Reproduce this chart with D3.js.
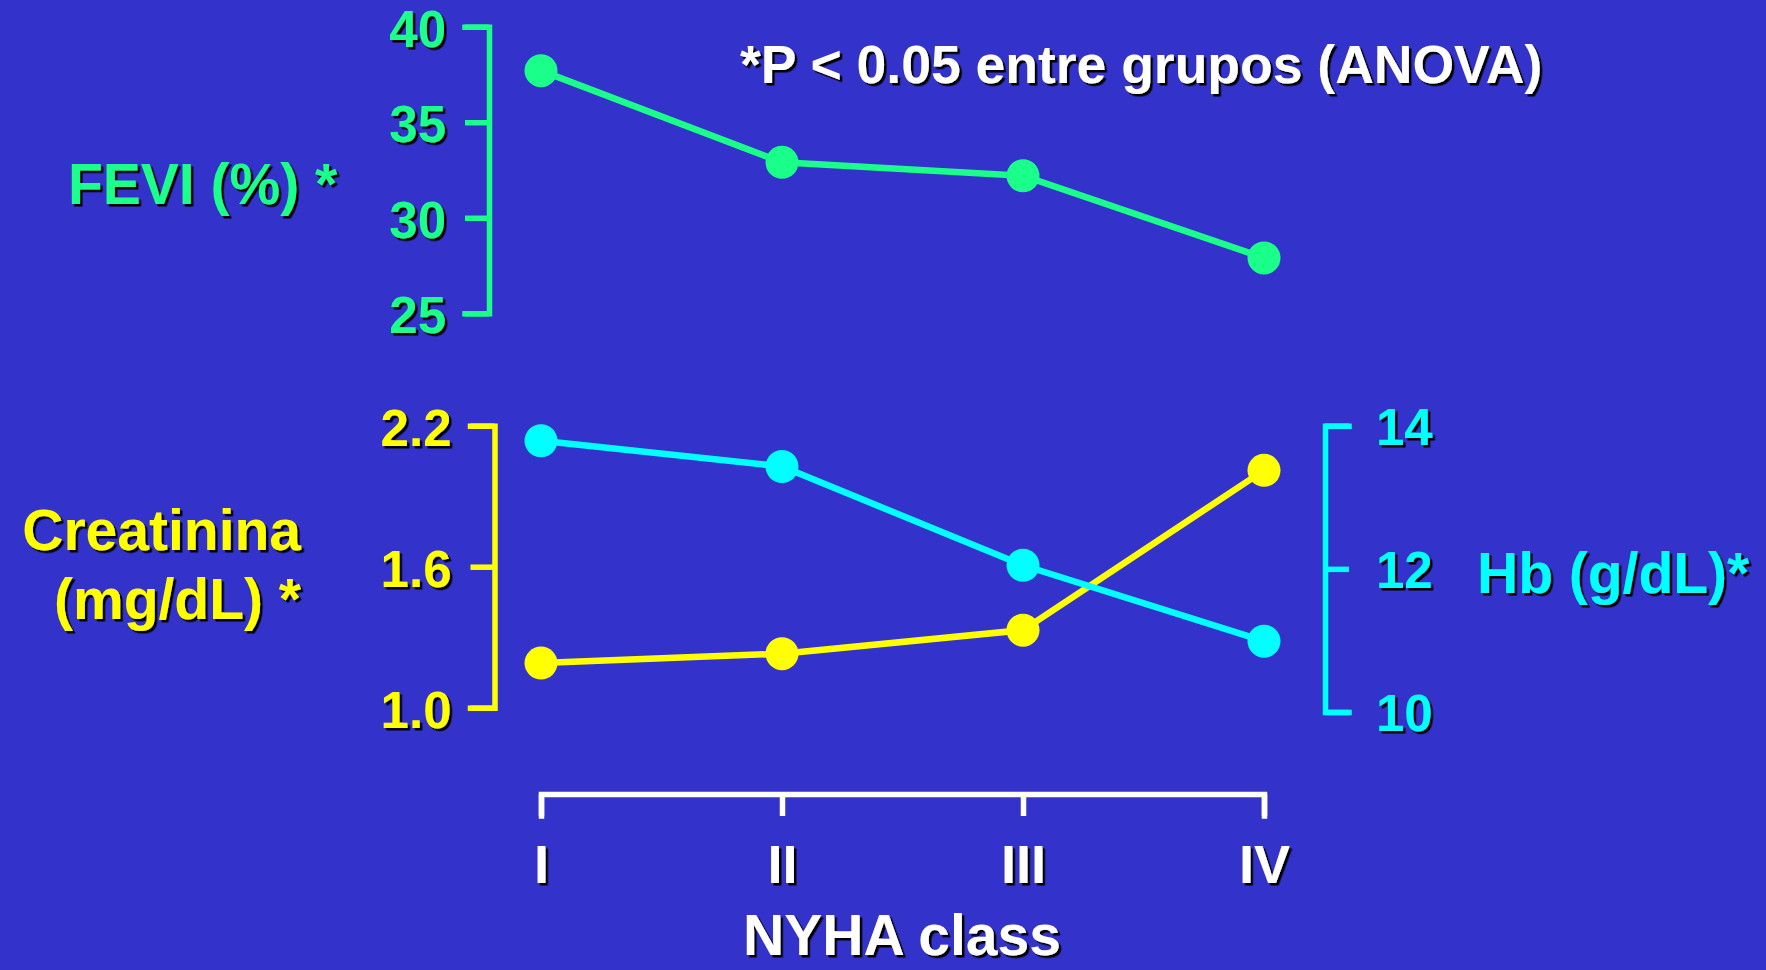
<!DOCTYPE html>
<html>
<head>
<meta charset="utf-8">
<script src="https://cdn.jsdelivr.net/npm/d3@7"></script>
<style>
	html, body { margin:0; padding:0; background:#3333cc; }
	svg { display:block; }
	text { font-family:"Liberation Sans", Arial, sans-serif; font-weight:bold; }
</style>
</head>
<body>
<svg id="chart" width="1766" height="970"></svg>
<script>
// data
var classes    = ["I", "II", "III", "IV"];
var fevi       = [37.7, 32.9, 32.2, 27.9];
var creatinina = [1.19, 1.23, 1.33, 2.01];
var hb         = [13.79, 13.43, 12.05, 10.99];
var feviTicks  = [25, 30, 35, 40];
var creaTicks  = [1.0, 1.6, 2.2];
var hbTicks    = [10, 12, 14];

var GREEN  = "#1aff8a";
var YELLOW = "#ffff00";
var CYAN   = "#00ffff";
var WHITE  = "#ffffff";

var svg = d3.select("#chart");
svg.append("rect").attr("width", 1766).attr("height", 970).attr("fill", "#3333cc");

// black drop shadow for text
var defs = svg.append("defs");
defs.append("filter").attr("id", "shadow")
	.attr("x", "-10%").attr("y", "-10%").attr("width", "130%").attr("height", "130%")
	.append("feDropShadow")
	.attr("dx", 2.5).attr("dy", 2.5).attr("stdDeviation", 0)
	.attr("flood-color", "#000").attr("flood-opacity", 1);

var x     = d3.scalePoint().domain(classes).range([541, 1264]);
var yFevi = d3.scaleLinear().domain([25, 40]).range([313.3, 26.7]);
var yCrea = d3.scaleLinear().domain([1.0, 2.2]).range([707.7, 425.7]);
var yHb   = d3.scaleLinear().domain([10, 14]).range([712, 425.7]);

function styleAxis(g, color, fontSize, dy) {
	g.selectAll("path.domain").attr("stroke", color).attr("stroke-width", 5.5).attr("fill", "none")
		.attr("stroke-linecap", "square");
	g.selectAll(".tick line").attr("stroke", color).attr("stroke-width", 5.5);
	g.selectAll(".tick text")
		.attr("fill", color)
		.attr("font-size", fontSize)
		.attr("dy", dy)
		.attr("filter", "url(#shadow)");
	g.attr("font-family", null).attr("font-size", null);
}

// FEVI axis (top panel, left)
var gFevi = svg.append("g").attr("transform", "translate(489,0)")
	.call(d3.axisLeft(yFevi).tickValues(feviTicks).tickFormat(d3.format("d"))
		.tickSize(24).tickSizeOuter(24).tickPadding(19));
styleAxis(gFevi, GREEN, 51, "0.38em");

// Creatinina axis (bottom panel, left)
var gCrea = svg.append("g").attr("transform", "translate(494.5,0)")
	.call(d3.axisLeft(yCrea).tickValues(creaTicks).tickFormat(d3.format(".1f"))
		.tickSize(24).tickSizeOuter(24).tickPadding(19));
styleAxis(gCrea, YELLOW, 51, "0.38em");

// Hb axis (bottom panel, right)
var gHb = svg.append("g").attr("transform", "translate(1325,0)")
	.call(d3.axisRight(yHb).tickValues(hbTicks).tickFormat(d3.format("d"))
		.tickSize(24).tickSizeOuter(24).tickPadding(27));
styleAxis(gHb, CYAN, 51, "0.36em");

// NYHA class axis
var gX = svg.append("g").attr("transform", "translate(0,794)")
	.call(d3.axisBottom(x).tickSize(22).tickSizeOuter(22));
styleAxis(gX, WHITE, 54, 0);
gX.selectAll(".tick text").attr("y", 89);

// series
function drawSeries(values, y, color) {
	var line = d3.line().x(function(d, i){ return x(classes[i]); }).y(function(d){ return y(d); });
	svg.append("path").datum(values)
		.attr("d", line)
		.attr("fill", "none")
		.attr("stroke", color)
		.attr("stroke-width", 6.5);
	svg.append("g").selectAll("circle").data(values).enter().append("circle")
		.attr("cx", function(d, i){ return x(classes[i]); })
		.attr("cy", function(d){ return y(d); })
		.attr("r", 16.5)
		.attr("fill", color);
}
drawSeries(fevi, yFevi, GREEN);
drawSeries(creatinina, yCrea, YELLOW);
drawSeries(hb, yHb, CYAN);

// labels
function label(txt, px, py, size, color, anchor) {
	svg.append("text")
		.attr("x", px).attr("y", py)
		.attr("font-size", size)
		.attr("fill", color)
		.attr("text-anchor", anchor || "start")
		.attr("filter", "url(#shadow)")
		.text(txt);
}
label("*P < 0.05 entre grupos (ANOVA)", 740, 83, 53.5, WHITE);
label("FEVI (%) *", 68, 204, 57, GREEN);
label("Creatinina", 301, 550, 57, YELLOW, "end");
label("(mg/dL) *", 301, 619, 57, YELLOW, "end");
label("Hb (g/dL)*", 1477, 593, 57, CYAN);
label("NYHA class", 902, 955, 57, WHITE, "middle");
</script>
</body>
</html>
